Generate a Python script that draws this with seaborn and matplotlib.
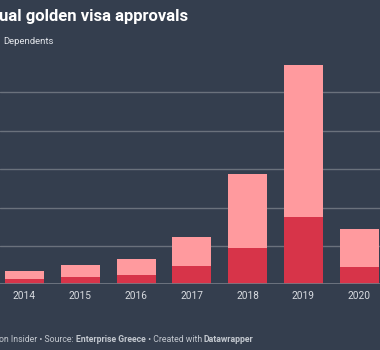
import matplotlib
matplotlib.use('Agg')
import matplotlib.pyplot as plt
import seaborn as sns
import numpy as np
import pandas as pd

# 데이터
years = ['2014', '2015', '2016', '2017', '2018', '2019', '2020']
investors = [300, 395, 485, 940, 1890, 3500, 920]
dependents = [390, 625, 835, 1530, 3850, 7900, 1960]
grid_ticks = [0, 2000, 4000, 6000, 8000, 10000]

bg = '#343e4e'
light = '#ff9a9e'
dark = '#d73449'

sns.set_theme(style='white')
plt.rcParams['font.family'] = ['Roboto', 'DejaVu Sans']

df = pd.DataFrame({'year': years, 'investors': investors, 'dependents': dependents})
df['total'] = df['investors'] + df['dependents']

fig = plt.figure(figsize=(3.8, 3.5), dpi=100)
fig.patch.set_facecolor(bg)

# 축 위치: 기준선 y=284px, 위쪽 50px
ax = fig.add_axes([0, (350 - 284.3) / 350, 1, (284.3 - 50) / 350])
ax.set_facecolor(bg)

sns.barplot(data=df, x='year', y='total', color=light, width=0.7,
            linewidth=0, saturation=1, ax=ax, zorder=3)
sns.barplot(data=df, x='year', y='investors', color=dark, width=0.7,
            linewidth=0, saturation=1, ax=ax, zorder=3)

ax.set_xlim(-0.439, 6.371)
ax.set_ylim(0, (284.3 - 50) / 38.4 * 2000)
ax.set_yticks(grid_ticks)
ax.yaxis.grid(True, color='#6a717c', linewidth=1)
ax.set_axisbelow(True)
ax.tick_params(axis='y', left=False, labelleft=False)
ax.tick_params(axis='x', bottom=False, length=0, colors='#d8dbe0',
               labelsize=7.3, pad=5)
for s in ax.spines.values():
    s.set_visible(False)
ax.axhline(0, color='#737a85', linewidth=1.2, zorder=4)
ax.set_xlabel('')
ax.set_ylabel('')

# 제목, 범례, 출처
fig.text(-0.002, 1 - 17 / 350, 'ual golden visa approvals', color='white',
         fontsize=12, fontweight='bold', va='center', ha='left')
fig.text(3 / 380, 1 - 41 / 350, 'Dependents', color='#e2e5ea',
         fontsize=6.8, va='center', ha='left')

parts = [('on Insider • Source: ', 'normal'), ('Enterprise Greece', 'bold'),
         (' • Created with ', 'normal'), ('Datawrapper', 'bold')]
fig.canvas.draw()
renderer = fig.canvas.get_renderer()
x = -1
for txt, w in parts:
    t = fig.text(x / 380, 1 - 340 / 350, txt, color='#c3c8cf', fontsize=6.3,
                 fontweight=w, va='center', ha='left')
    x += t.get_window_extent(renderer).width

fig.savefig('out.png', dpi=100, facecolor=bg)
